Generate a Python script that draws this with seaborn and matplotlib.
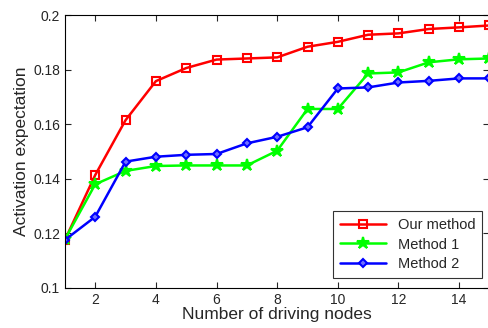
import numpy as np
import pandas as pd
import matplotlib
matplotlib.use('Agg')
import matplotlib.pyplot as plt
import seaborn as sns

# -------------------------------
# Data
# -------------------------------
nodes = list(range(1, 16))
our_method = [0.1176, 0.1414, 0.1615, 0.1758, 0.1806, 0.1837, 0.1841, 0.1845,
              0.1884, 0.1902, 0.1928, 0.1933, 0.1949, 0.1955, 0.1962]
method_1 = [0.1178, 0.1380, 0.1429, 0.1447, 0.1449, 0.1449, 0.1449, 0.1503,
            0.1656, 0.1656, 0.1786, 0.1790, 0.1827, 0.1838, 0.1841]
method_2 = [0.1176, 0.1261, 0.1463, 0.1481, 0.1488, 0.1491, 0.1530, 0.1554,
            0.1589, 0.1731, 0.1735, 0.1753, 0.1759, 0.1768, 0.1768]

series_names = ["Our method", "Method 1", "Method 2"]
series_vals = [our_method, method_1, method_2]

df = pd.DataFrame({
    "nodes": nodes * 3,
    "value": our_method + method_1 + method_2,
    "method": sum([[n] * len(nodes) for n in series_names], []),
})

# -------------------------------
# Style
# -------------------------------
sns.set_style("ticks")
plt.rcParams['font.family'] = ['Liberation Sans', 'DejaVu Sans']
plt.rcParams['xtick.direction'] = 'in'
plt.rcParams['ytick.direction'] = 'in'

fig = plt.figure(figsize=(4.88, 3.28), dpi=100)
ax = fig.add_axes([0.133, 0.122, 0.870, 0.832])

colors = {"Our method": "#ff0000", "Method 1": "#00ff00", "Method 2": "#0000ff"}
markers = {"Our method": "s", "Method 1": "*", "Method 2": "D"}
msizes = {"Our method": 6, "Method 1": 9, "Method 2": 4.5}
faces = {"Our method": "none", "Method 1": "#00ff00", "Method 2": "#6f6fff"}

for name in series_names:
    sub = df[df["method"] == name]
    sns.lineplot(data=sub, x="nodes", y="value", ax=ax, color=colors[name],
                 marker=markers[name], markersize=msizes[name],
                 markerfacecolor=faces[name],
                 markeredgecolor=colors[name], markeredgewidth=1.5,
                 linewidth=1.8, label=name)

ax.set_xlim(1, 15)
ax.set_ylim(0.1, 0.2)
ax.set_xticks([2, 4, 6, 8, 10, 12, 14])
ax.set_yticks([0.1, 0.12, 0.14, 0.16, 0.18, 0.2])
ax.set_yticklabels(["0.1", "0.12", "0.14", "0.16", "0.18", "0.2"])
ax.tick_params(labelsize=10, top=True, right=True, length=4, width=0.8)
ax.set_xlabel("Number of driving nodes", fontsize=12.5, labelpad=0)
ax.set_ylabel("Activation expectation", fontsize=12.5, labelpad=3)
for s in ax.spines.values():
    s.set_linewidth(0.8)
    s.set_color("black")

leg = ax.legend(loc="lower right", fontsize=10.5, frameon=True, fancybox=False,
                edgecolor="black", handlelength=3.2, borderpad=0.45,
                labelspacing=0.4, bbox_to_anchor=(1.0, 0.01))
leg.get_frame().set_linewidth(0.8)

plt.savefig("out.png", dpi=100)
plt.close()
